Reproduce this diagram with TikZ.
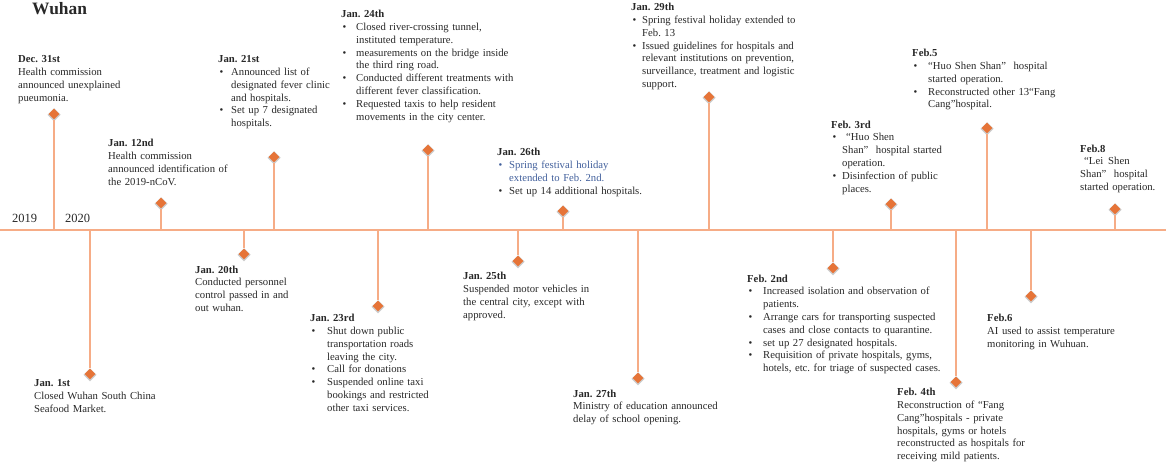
\documentclass[tikz,border=0pt]{standalone}
\usepackage{fontspec}
\setmainfont{Liberation Serif}
\usetikzlibrary{shapes.geometric}

\definecolor{stemc}{RGB}{246,172,134}
\definecolor{mko}{RGB}{230,116,56}
\definecolor{txt}{RGB}{40,40,40}
\definecolor{hlblue}{RGB}{66,96,156}

\newlength\itmind
\setlength\itmind{13pt}
\newcommand\itm[2][txt]{\par\hangindent=\itmind\hangafter=1\noindent{\color{#1}\let\\\newline\makebox[\itmind][l]{\hspace{1.5pt}\textbullet}#2}\par}

\begin{document}
\begin{tikzpicture}[x=1pt, y=-1pt,
        axis/.style={draw=stemc, line width=1.6pt},
        stem/.style={draw=stemc, line width=1.3pt},
        marker/.style={diamond, fill=mko, inner sep=0pt, minimum size=11pt,
            preaction={draw=gray!40, line width=1.6pt, transform canvas={yshift=-0.8pt}}},
        event/.style={anchor=north west, inner sep=0pt, text width=195pt, align=left,
            text=txt, font=\fontsize{10.7}{12.8}\selectfont\frenchspacing},
        bulind/.code={\setlength\itmind{#1}},
        year/.style={anchor=base west, inner sep=0pt, text=txt, font=\fontsize{12.5}{14}\selectfont},]

        \useasboundingbox (0,0) rectangle (1166,470);

        % Title and years
        \node[anchor=base west, inner sep=0pt, text=txt, font=\fontsize{17.4}{20}\selectfont\bfseries] (title) at (32,15) {Wuhan};
        \node[year] (y2019) at (12,223) {2019};
        \node[year] (y2020) at (65,223) {2020};

        % Axis
        \coordinate (axl) at (0,230);
        \coordinate (axr) at (1166,230);
        \draw[axis] (axl) -- (axr);

        % Ticks on the axis
        \coordinate (t1) at (54,230);
        \coordinate (t2) at (90,230);
        \coordinate (t3) at (161,230);
        \coordinate (t4) at (244,230);
        \coordinate (t5) at (274,230);
        \coordinate (t6) at (378,230);
        \coordinate (t7) at (428,230);
        \coordinate (t8) at (518,230);
        \coordinate (t9) at (563,230);
        \coordinate (t10) at (638,230);
        \coordinate (t11) at (709,230);
        \coordinate (t12) at (833,230);
        \coordinate (t13) at (891,230);
        \coordinate (t14) at (956,230);
        \coordinate (t15) at (987,230);
        \coordinate (t16) at (1031,230);
        \coordinate (t17) at (1115,230);

        % Markers
        \node[marker] (m1) at (54,114) {};
        \node[marker] (m2) at (90,374) {};
        \node[marker] (m3) at (161,203) {};
        \node[marker] (m4) at (244,254) {};
        \node[marker] (m5) at (274,157) {};
        \node[marker] (m6) at (378,306) {};
        \node[marker] (m7) at (428,150) {};
        \node[marker] (m8) at (518,261) {};
        \node[marker] (m9) at (563,211) {};
        \node[marker] (m10) at (638,378) {};
        \node[marker] (m11) at (709,97) {};
        \node[marker] (m12) at (833,268) {};
        \node[marker] (m13) at (891,204) {};
        \node[marker] (m14) at (956,382) {};
        \node[marker] (m15) at (987,128) {};
        \node[marker] (m16) at (1031,296) {};
        \node[marker] (m17) at (1115,209) {};

        % Stems
        \draw[stem] (t1) -- (m1);
        \draw[stem] (t2) -- (m2);
        \draw[stem] (t3) -- (m3);
        \draw[stem] (t4) -- (m4);
        \draw[stem] (t5) -- (m5);
        \draw[stem] (t6) -- (m6);
        \draw[stem] (t7) -- (m7);
        \draw[stem] (t8) -- (m8);
        \draw[stem] (t9) -- (m9);
        \draw[stem] (t10) -- (m10);
        \draw[stem] (t11) -- (m11);
        \draw[stem] (t12) -- (m12);
        \draw[stem] (t13) -- (m13);
        \draw[stem] (t14) -- (m14);
        \draw[stem] (t15) -- (m15);
        \draw[stem] (t16) -- (m16);
        \draw[stem] (t17) -- (m17);

        % Events above the axis
        \node[event] (e1) at (18,55.5) {\textbf{Dec. 31st}\\Health commission\\announced unexplained\\pueumonia.};
        \node[event] (e3) at (108,139) {\textbf{Jan. 12nd}\\Health commission\\announced identification of\\the 2019-nCoV.};
        \node[event, bulind=13pt] (e5) at (218,55.5) {\textbf{Jan. 21st}
            \itm{Announced list of\\designated fever clinic\\and hospitals.}
            \itm{Set up 7 designated\\hospitals.}};
        \node[event, bulind=15pt] (e7) at (341,10) {\textbf{Jan. 24th}
            \itm{Closed river-crossing tunnel,\\instituted temperature.}
            \itm{measurements on the bridge inside\\the third ring road.}
            \itm{Conducted different treatments with\\different fever classification.}
            \itm{Requested taxis to help resident\\movements in the city center.}};
        \node[event, bulind=12pt] (e9) at (497,148) {\textbf{Jan. 26th}
            \itm[hlblue]{Spring festival holiday\\extended to Feb. 2nd.}
            \itm{Set up 14 additional hospitals.}};
        \node[event, bulind=11pt] (e11) at (631,3) {\textbf{Jan. 29th}
            \itm{Spring festival holiday extended to\\Feb. 13}
            \itm{Issued guidelines for hospitals and\\relevant institutions on prevention,\\surveillance, treatment and logistic\\support.}};
        \node[event, bulind=11pt] (e13) at (831,120.5) {\textbf{Feb. 3rd}
            \itm{\hspace{4pt}“Huo Shen\\Shan”\hspace{4pt} hospital started\\operation.}
            \itm{Disinfection of public\\places.}};
        \node[event, bulind=16pt] (e15) at (912,49) {\textbf{Feb.5}
            \itm{“Huo Shen Shan”\hspace{4pt} hospital\\started operation.}
            \itm{Reconstructed other 13“Fang\\Cang”hospital.}};
        \node[event] (e17) at (1080,144.5) {\textbf{Feb.8}\\\hspace{4pt}“Lei\hspace{5pt}Shen\\Shan”\hspace{4pt} hospital\\started operation.};

        % Events below the axis
        \node[event] (e2) at (34,379.5) {\textbf{Jan. 1st}\\Closed Wuhan South China\\Seafood Market.};
        \node[event] (e4) at (195,265.5) {\textbf{Jan. 20th}\\Conducted personnel\\control passed in and\\out wuhan.};
        \node[event, bulind=17pt] (e6) at (310,314) {\textbf{Jan. 23rd}
            \itm{Shut down public\\transportation roads\\leaving the city.}
            \itm{Call for donations}
            \itm{Suspended online taxi\\bookings and restricted\\other taxi services.}};
        \node[event] (e8) at (463,272) {\textbf{Jan. 25th}\\Suspended motor vehicles in\\the central city, except with\\approved.};
        \node[event] (e10) at (573,389.5) {\textbf{Jan. 27th}\\Ministry of education announced\\delay of school opening.};
        \node[event, bulind=16pt] (e12) at (747,274.5) {\textbf{Feb. 2nd}
            \itm{Increased isolation and observation of\\patients.}
            \itm{Arrange cars for transporting suspected\\cases and close contacts to quarantine.}
            \itm{set up 27 designated hospitals.}
            \itm{Requisition of private hospitals, gyms,\\hotels, etc. for triage of suspected cases.}};
        \node[event] (e14) at (897,388) {\textbf{Feb. 4th}\\Reconstruction of “Fang\\Cang”hospitals - private\\hospitals, gyms or hotels\\reconstructed as hospitals for\\receiving mild patients.};
        \node[event] (e16) at (987,314) {\textbf{Feb.6}\\AI used to assist temperature\\monitoring in Wuhuan.};
    \end{tikzpicture}
\end{document}
